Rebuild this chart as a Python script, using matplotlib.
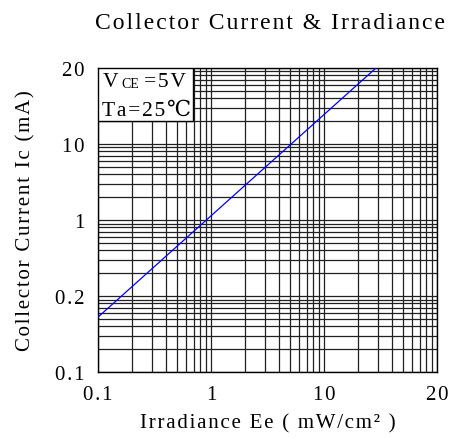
import matplotlib
matplotlib.use('Agg')
import matplotlib.pyplot as plt
from matplotlib.ticker import FixedLocator, FixedFormatter, LogLocator, NullFormatter

plt.rcParams['font.family'] = ['Liberation Serif', 'DejaVu Serif']

# axis decades (log positions) and the labels printed on them
x_ticks = [0.1, 1, 10, 100]
x_labels = ['0.1', '1', '10', '20']
y_ticks = [0.1, 1, 10, 100, 1000]
y_labels = ['0.1', '0.2', '1', '10', '20']

# the curve, in axis units
irradiance = [0.1, 28.8]
current = [0.53, 1000]


def spaced(s):
    # the original chart has loose letter spacing
    return '\u200a'.join(s)


fig = plt.figure(figsize=(4.54, 4.39), dpi=100)
ax = fig.add_axes([0.216, 0.150, 0.747, 0.693])

ax.plot(irradiance, current, color='#0000ff', lw=0.9, zorder=3)

ax.set_xscale('log')
ax.set_yscale('log')
ax.set_xlim(x_ticks[0], x_ticks[-1])
ax.set_ylim(y_ticks[0], y_ticks[-1])

ax.xaxis.set_major_locator(FixedLocator(x_ticks))
ax.xaxis.set_major_formatter(FixedFormatter([spaced(t) for t in x_labels]))
ax.yaxis.set_major_locator(FixedLocator(y_ticks))
ax.yaxis.set_major_formatter(FixedFormatter([spaced(t) for t in y_labels]))
for axis in (ax.xaxis, ax.yaxis):
    axis.set_minor_locator(LogLocator(base=10, subs=range(2, 10)))
    axis.set_minor_formatter(NullFormatter())

ax.tick_params(which='both', length=0, labelsize=15, colors='black')
ax.tick_params(axis='x', pad=9)
ax.tick_params(axis='y', pad=10)
ax.grid(which='both', color='#202020', lw=0.9)
for s in ax.spines.values():
    s.set_linewidth(1.0)
    s.set_color('black')

# condition box
ax.add_patch(plt.Rectangle((0, 0.826), 0.28, 0.174, transform=ax.transAxes,
                           facecolor='white', edgecolor='black', lw=1.0, zorder=4))
ax.text(0.013, 0.955, 'V', transform=ax.transAxes, fontsize=15.5, va='center', zorder=5)
ax.text(0.068, 0.948, 'CE', transform=ax.transAxes, fontsize=10, va='center', zorder=5)
ax.text(0.135, 0.955, spaced('=5V'), transform=ax.transAxes, fontsize=15.5, va='center', zorder=5)
ax.text(0.013, 0.862, spaced('Ta=25\u2103'), transform=ax.transAxes, fontsize=15.5,
        va='center', zorder=5)

fig.text(0.595, 0.946, spaced('Collector Current & Irradiance'), ha='center', va='center',
         fontsize=17)
ax.set_xlabel(spaced('Irradiance Ee ( mW/cm\u00b2 )'), fontsize=15, labelpad=7)
ax.set_ylabel(spaced('Collector Current Ic (mA)'), fontsize=15, labelpad=14)

fig.savefig('out.png', dpi=100)
